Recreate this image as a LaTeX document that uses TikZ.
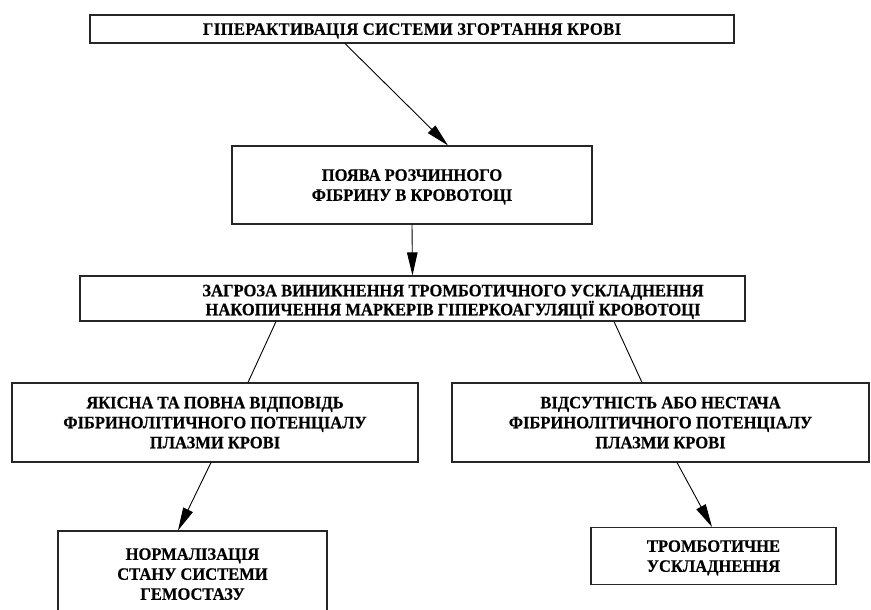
\documentclass[tikz,border=0pt]{standalone}
\usepackage{fontspec}
\setmainfont{Liberation Serif}
\newfontfamily\bxfont[FakeStretch=0.95,FakeBold=0.4]{Liberation Serif Bold}
\usetikzlibrary{arrows.meta,calc}
\begin{document}
\begin{tikzpicture}[x=1pt,y=-1pt,
  box/.style={draw=black!85,line width=1.1pt,inner sep=0pt,align=center,text depth=0pt,
    font=\bxfont\fontsize{17.4}{20}\selectfont},
  txt/.style={inner sep=0pt,align=center,text depth=0pt,font=\bxfont\fontsize{17.4}{19}\selectfont},
  conn/.style={draw=black,line width=0.9pt},
  arr/.style={conn,-{Triangle[length=23pt,width=10.5pt]}}]
\useasboundingbox (0,0) rectangle (871,610);
\fill[white] (0,0) rectangle (871,610);
\clip (0,0) rectangle (871,610);
\node[box,minimum width=644pt,minimum height=28pt] (b1) at (412,29) {\addfontfeature{LetterSpace=2.5}ГІПЕРАКТИВАЦІЯ СИСТЕМИ ЗГОРТАННЯ КРОВІ};
\node[box,minimum width=360pt,minimum height=78pt] (b2) at (412,185) {ПОЯВА РОЗЧИННОГО\\ФІБРИНУ В КРОВОТОЦІ};
\node[box,minimum width=665pt,minimum height=45pt] (b3) at (412.5,298.5) {};
\node[txt] (t3) at (453,300) {ЗАГРОЗА ВИНИКНЕННЯ ТРОМБОТИЧНОГО УСКЛАДНЕННЯ\\НАКОПИЧЕННЯ МАРКЕРІВ ГІПЕРКОАГУЛЯЦІЇ КРОВОТОЦІ};
\node[box,minimum width=406pt,minimum height=79pt] (b4) at (215,422.5) {ЯКІСНА ТА ПОВНА ВІДПОВІДЬ\\ФІБРИНОЛІТИЧНОГО ПОТЕНЦІАЛУ\\ПЛАЗМИ КРОВІ};
\node[box,minimum width=417pt,minimum height=79pt] (b5) at (660.5,422.5) {ВІДСУТНІСТЬ АБО НЕСТАЧА\\ФІБРИНОЛІТИЧНОГО ПОТЕНЦІАЛУ\\ПЛАЗМИ КРОВІ};
\node[box,minimum width=269pt,minimum height=86pt] (b6) at (192.5,574) {НОРМАЛІЗАЦІЯ\\СТАНУ СИСТЕМИ\\ГЕМОСТАЗУ};
\node[box,minimum width=245pt,minimum height=57pt] (b7) at (713.5,556) {ТРОМБОТИЧНЕ\\УСКЛАДНЕННЯ};
\draw[arr] ([xshift=-67pt]b1.south) -- ([xshift=36pt]b2.north);
\draw[arr] (b2.south) -- (b3.north);
\draw[conn] ([xshift=-136.5pt]b3.south) -- ([xshift=33pt]b4.north);
\draw[conn] ([xshift=201.5pt]b3.south) -- ([xshift=-18.5pt]b5.north);
\draw[arr] ([xshift=-4pt]b4.south) -- ([xshift=-14.5pt]b6.north);
\draw[arr] ([xshift=16.5pt]b5.south) -- ([xshift=-1.5pt]b7.north);
\end{tikzpicture}
\end{document}
